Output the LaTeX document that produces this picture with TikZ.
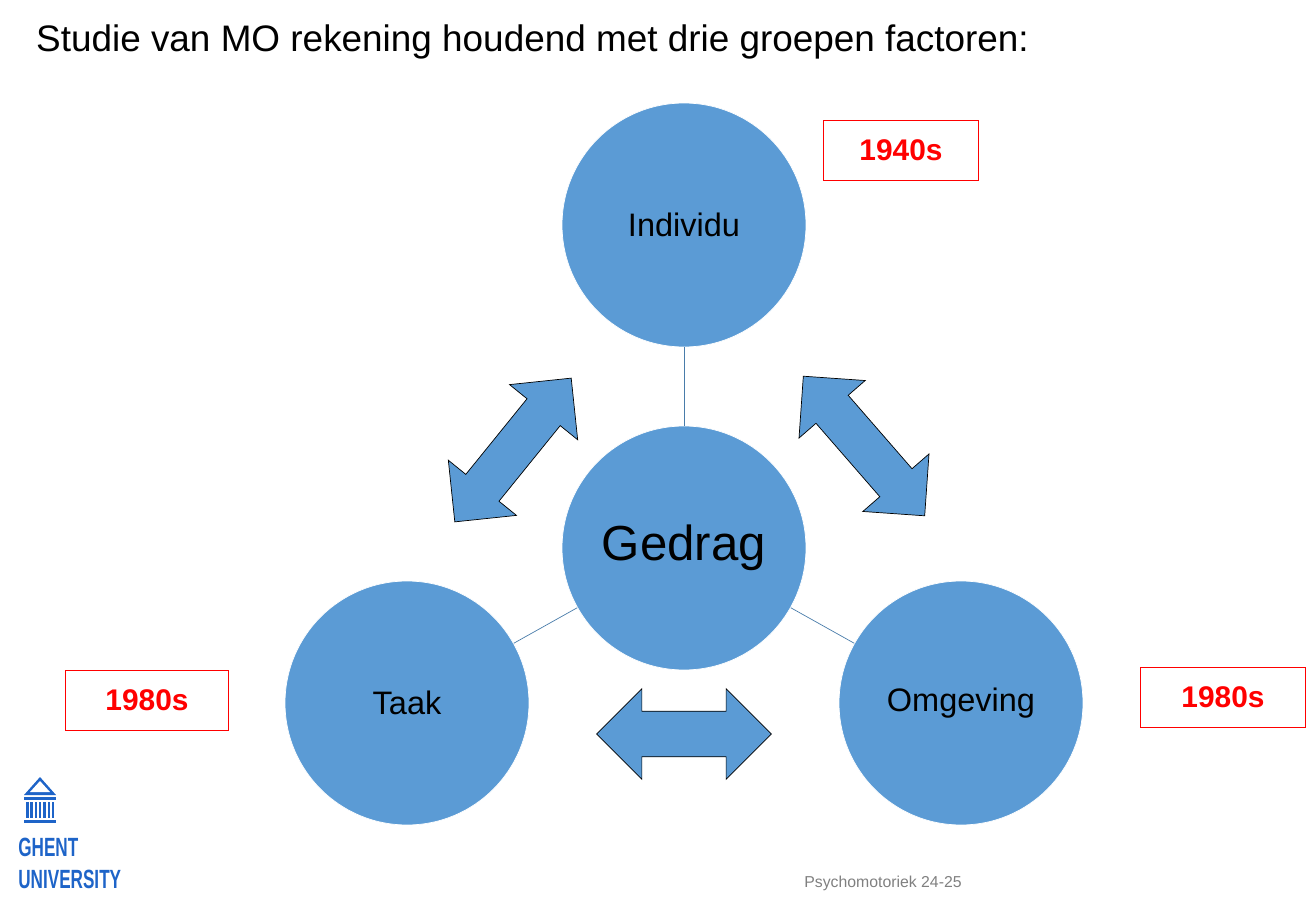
\documentclass[tikz,border=0pt]{standalone}
\usepackage{fontspec}
\setmainfont{Liberation Sans}
\usetikzlibrary{shapes.arrows}
\definecolor{circblue}{RGB}{91,155,213}
\definecolor{ugblue}{RGB}{30,100,200}
\tikzset{
  factor/.style={circle, minimum size=4.88cm, fill=circblue, draw=white, font=\fontsize{18.5}{22}\selectfont},
  link/.style={draw=circblue!80!black, thin},
  dblarrow/.style={double arrow, fill=circblue, draw=black, minimum height=3.6cm, double arrow head extend=0.45cm, inner xsep=0pt, inner ysep=0.45cm},
  era/.style={rectangle, draw=red, text=red, font=\bfseries\fontsize{17}{20}\selectfont, minimum width=3.1cm, minimum height=1.2cm}
}
\begin{document}
\begin{tikzpicture}[x=0.02cm,y=-0.02cm]
  \useasboundingbox (0,0) rectangle (1315,915);
  \node (title) [anchor=west, font=\fontsize{21}{25}\selectfont] at (30,42) {Studie van MO rekening houdend met drie groepen factoren:};

  \node (individu) [factor] at (684,225) {Individu};
  \node (gedrag) [factor, font=\fontsize{28}{32}\selectfont] at (684,548) {Gedrag};
  \node (taak) [factor] at (407,703) {Taak};
  \node (omgeving) [factor] at (961,703) {Omgeving};

  \draw [link] (individu) -- (gedrag);
  \draw [link] (gedrag) -- (taak);
  \draw [link] (gedrag) -- (omgeving);

  \node (arrowleft) [dblarrow, rotate=51, minimum height=3.7cm, inner ysep=0.42cm] at (513,450) {};
  \node (arrowright) [dblarrow, rotate=-49, minimum height=3.7cm, inner ysep=0.42cm] at (864,446) {};
  \node (arrowbottom) [dblarrow, minimum height=3.5cm] at (684,734) {};

  \node (era1940) [era] at (901,150) {1940s};
  \node (era1980a) [era, minimum width=3.25cm] at (147,700) {1980s};
  \node (era1980b) [era, minimum width=3.3cm] at (1223,697) {1980s};

  \node (footer) [text=gray, font=\fontsize{9}{11}\selectfont] at (883,883) {Psychomotoriek 24-25};

  % logo
  \fill [ugblue] (24,795) -- (40,777) -- (56,795) -- cycle;
  \fill [white] (30,792) -- (40,781) -- (50,792) -- cycle;
  \fill [ugblue] (24,797) rectangle (56,800);
  \foreach \i in {0,...,6} \fill [ugblue] (26+\i*4.3,802) rectangle (28.5+\i*4.3,818);
  \fill [ugblue] (24,820) rectangle (56,823);
  \node (logo) [text=ugblue, anchor=north west, align=left, inner sep=0pt, font=\bfseries\fontsize{15}{18}\selectfont] at (18,838) {\scalebox{0.65}[1]{GHENT}\\\scalebox{0.65}[1]{UNIVERSITY}};
\end{tikzpicture}
\end{document}
